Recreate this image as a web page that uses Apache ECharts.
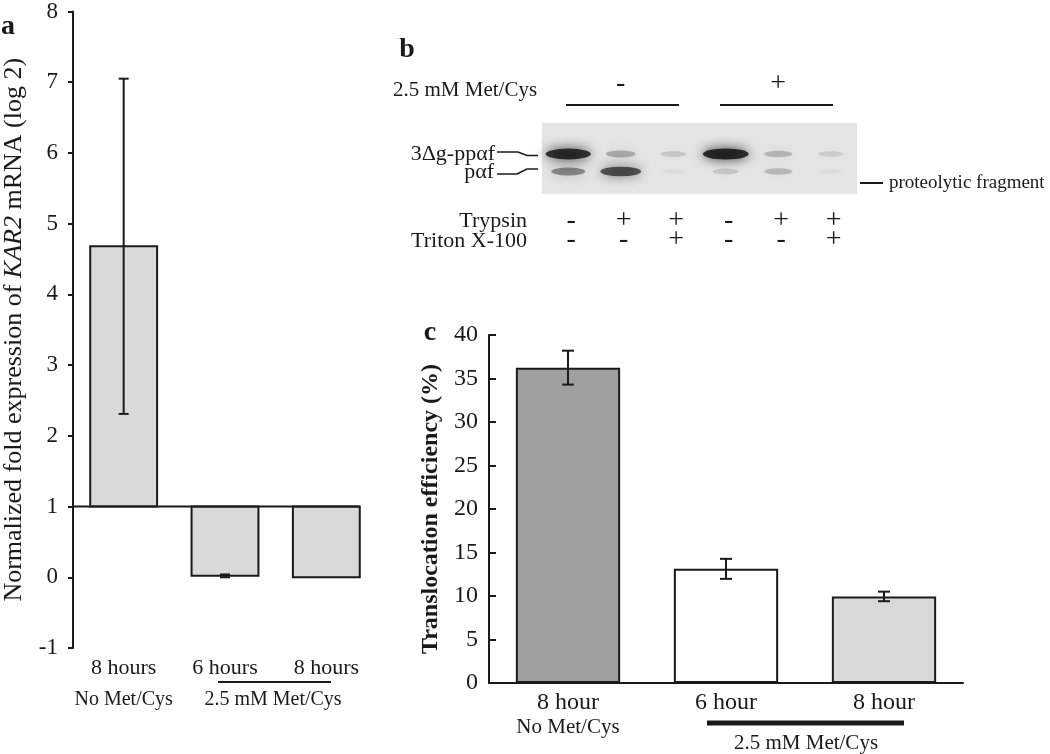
<!DOCTYPE html>
<html>
<head>
<meta charset="utf-8">
<script src="https://cdn.jsdelivr.net/npm/echarts@6/dist/echarts.min.js"></script>
<style>
  html, body { margin: 0; padding: 0; background: #fff; }
  #chart { width: 1050px; height: 754px; }
</style>
</head>
<body>
<div id="chart"></div>
<script>
// panel a: KAR2 mRNA, log2 fold, bars hang from baseline 1
const aCategories = ["8 hours", "6 hours", "8 hours"];
const aValues = [4.68, 0.02, 0.0];
const aErrors = [2.37, 0.02, 0];
const aBaseline = 1;

// panel b: gel lanes and band intensities (0..1)
const lanes = ["1", "2", "3", "4", "5", "6"];
const bandRows = [31, 48.5];          // migration of 3Δg-ppαf and pαf bands
const upperBand = [0.97, 0.32, 0.16, 1.0, 0.26, 0.13];
const lowerBand = [0.5, 0.78, 0.04, 0.16, 0.24, 0.04];
const trypsinRow = ["-", "+", "+", "-", "+", "+"];
const tritonRow = ["-", "-", "+", "-", "-", "+"];
const metCysGroups = ["-", "+"];

// panel c: translocation efficiency (%)
const cCategories = ["8 hour", "6 hour", "8 hour"];
const cValues = [36.25, 13.12, 9.95];
const cErrors = [1.95, 1.15, 0.55];
const cColors = ["#a0a0a0", "#ffffff", "#d9d9d9"];

const FONT = '"Liberation Serif", "Times New Roman", serif';
const INK = "#1a1a1a";

const chart = echarts.init(document.getElementById("chart"));

function errorBars(capW) {
  return function (params, api) {
    const i = api.value(0);
    const lo = api.value(1);
    const hi = api.value(2);
    if (hi === lo) return null;
    const pHi = api.coord([i, hi]);
    const pLo = api.coord([i, lo]);
    const st = { stroke: INK, lineWidth: 2 };
    return {
      type: "group",
      children: [
        { type: "line", shape: { x1: pHi[0], y1: pHi[1], x2: pLo[0], y2: pLo[1] }, style: st },
        { type: "line", shape: { x1: pHi[0] - capW / 2, y1: pHi[1], x2: pHi[0] + capW / 2, y2: pHi[1] }, style: st },
        { type: "line", shape: { x1: pLo[0] - capW / 2, y1: pLo[1], x2: pLo[0] + capW / 2, y2: pLo[1] }, style: st },
      ],
    };
  };
}

function renderBarsA(params, api) {
  const i = api.value(0);
  const v = api.value(1);
  const base = api.coord([i, aBaseline]);
  const top = api.coord([i, v]);
  const w = api.size([1, 0])[0] * 0.66;
  const children = [
    {
      type: "rect",
      shape: { x: base[0] - w / 2, y: Math.min(base[1], top[1]), width: w, height: Math.abs(top[1] - base[1]) },
      style: { fill: "#d9d9d9", stroke: INK, lineWidth: 2 },
    },
  ];
  // the baseline at 1 runs from the axis to the right edge of the last bar
  if (params.dataIndex === aValues.length - 1) {
    children.push({
      type: "line",
      shape: { x1: params.coordSys.x, y1: base[1], x2: base[0] + w / 2, y2: base[1] },
      style: { stroke: INK, lineWidth: 2 },
      z2: 10,
    });
  }
  return { type: "group", children };
}

function bandData(row, yPos) {
  return row.map((a, i) => ({
    value: [i, yPos],
    symbolSize: [22 + 24 * a, 5 + 6 * a],
    itemStyle: {
      color: "rgba(10,10,10," + a + ")",
      shadowBlur: 12,
      shadowColor: "rgba(10,10,10," + a + ")",
    },
  }));
}

chart.setOption({
  animation: false,
  textStyle: { fontFamily: FONT, color: INK },
  grid: [
    { left: 73, top: 5, width: 304, height: 643 },
    { left: 542, top: 123, width: 315, height: 71, show: true, backgroundColor: "#e4e4e4", borderWidth: 0 },
    { left: 489, top: 335, width: 474, height: 348 },
  ],
  xAxis: [
    {
      type: "category",
      gridIndex: 0,
      data: aCategories,
      axisLine: { show: false },
      axisTick: { show: false },
      axisLabel: {
        interval: 0,
        hideOverlap: false,
        fontFamily: FONT,
        fontSize: 22,
        color: INK,
        margin: 4,
        lineHeight: 32,
        formatter: (v, i) => (i === 0 ? v + "\n{s|No Met/Cys}" : v),
        rich: { s: { fontFamily: FONT, fontSize: 20, lineHeight: 32, color: INK } },
      },
    },
    { type: "category", gridIndex: 1, data: lanes, show: false },
    {
      type: "category",
      gridIndex: 2,
      data: cCategories,
      axisLine: { lineStyle: { color: INK, width: 2 } },
      axisTick: { show: false },
      axisLabel: {
        interval: 0,
        hideOverlap: false,
        fontFamily: FONT,
        fontSize: 24,
        color: INK,
        margin: 7,
        lineHeight: 25,
        formatter: (v, i) => (i === 0 ? v + "\n{s|No Met/Cys}" : v),
        rich: { s: { fontFamily: FONT, fontSize: 21, lineHeight: 25, color: INK } },
      },
    },
  ],
  yAxis: [
    {
      type: "value",
      gridIndex: 0,
      min: -1,
      max: 8,
      interval: 1,
      splitLine: { show: false },
      axisLine: { show: true, lineStyle: { color: INK, width: 2 } },
      axisTick: { show: true, length: 5, lineStyle: { color: INK, width: 2 } },
      axisLabel: { fontFamily: FONT, fontSize: 23, color: INK, margin: 15 },
      name: "Normalized fold expression of {i|KAR2} mRNA (log 2)",
      nameLocation: "middle",
      nameGap: 46,
      nameTextStyle: {
        fontFamily: FONT,
        fontSize: 26,
        color: INK,
        rich: { i: { fontFamily: FONT, fontSize: 26, fontStyle: "italic", color: INK } },
      },
    },
    { type: "value", gridIndex: 1, min: 0, max: 71, inverse: true, show: false },
    {
      type: "value",
      gridIndex: 2,
      min: 0,
      max: 40,
      interval: 5,
      splitLine: { show: false },
      axisLine: { show: true, lineStyle: { color: INK, width: 2 } },
      axisTick: { show: true, inside: true, length: 7, lineStyle: { color: INK, width: 2 } },
      axisLabel: { fontFamily: FONT, fontSize: 24, color: INK, margin: 11 },
      name: "Translocation efficiency (%)",
      nameLocation: "middle",
      nameGap: 46,
      nameTextStyle: { fontFamily: FONT, fontSize: 24, fontWeight: "bold", color: INK },
    },
  ],
  series: [
    {
      type: "custom",
      xAxisIndex: 0,
      yAxisIndex: 0,
      renderItem: renderBarsA,
      encode: { x: 0, y: 1 },
      data: aValues.map((v, i) => [i, v]),
      z: 2,
    },
    {
      type: "custom",
      xAxisIndex: 0,
      yAxisIndex: 0,
      renderItem: errorBars(10),
      encode: { x: 0, y: [1, 2] },
      data: aValues.map((v, i) => [i, v - aErrors[i], v + aErrors[i]]),
      z: 3,
    },
    {
      type: "scatter",
      xAxisIndex: 1,
      yAxisIndex: 1,
      silent: true,
      data: bandData(upperBand, bandRows[0]),
    },
    {
      type: "scatter",
      xAxisIndex: 1,
      yAxisIndex: 1,
      silent: true,
      data: bandData(lowerBand, bandRows[1]),
    },
    {
      type: "bar",
      xAxisIndex: 2,
      yAxisIndex: 2,
      barWidth: "66%",
      data: cValues.map((v, i) => ({ value: v, itemStyle: { color: cColors[i] } })),
      itemStyle: { borderColor: INK, borderWidth: 2 },
      z: 2,
    },
    {
      type: "custom",
      xAxisIndex: 2,
      yAxisIndex: 2,
      renderItem: errorBars(12),
      encode: { x: 0, y: [1, 2] },
      data: cValues.map((v, i) => [i, v - cErrors[i], v + cErrors[i]]),
      z: 3,
    },
  ],
});

// annotations: panel letters, gel labels, treatment signs, group brackets
function txt(text, x, y, size, opts) {
  const o = opts || {};
  return {
    type: "text",
    x: x,
    y: y,
    style: {
      text: text,
      font: (o.weight || "normal") + " " + size + "px " + FONT,
      fill: INK,
      align: o.align || "center",
      textAlign: o.align || "center",
      verticalAlign: "middle",
      textVerticalAlign: "middle",
    },
  };
}
function seg(x1, y1, x2, y2, w) {
  return { type: "line", shape: { x1, y1, x2, y2 }, style: { stroke: INK, lineWidth: w || 2 } };
}

const laneX = lanes.map((l, i) => chart.convertToPixel({ xAxisIndex: 1 }, i));
const graphics = [
  txt("a", 8, 27, 28, { weight: "bold" }),
  txt("b", 407, 50, 28, { weight: "bold" }),
  txt("c", 430, 333, 28, { weight: "bold" }),
  // panel a group label
  seg(218, 682, 331, 682, 2),
  txt("2.5 mM Met/Cys", 273, 700, 20),
  // panel c group label
  seg(707, 723, 904, 723, 5),
  txt("2.5 mM Met/Cys", 806, 743, 21),
  // panel b
  txt("2.5 mM Met/Cys", 393, 90, 21, { align: "left" }),
  seg(566, 105, 679, 105, 2),
  seg(720, 105, 833, 105, 2),
  txt("3Δg-ppαf", 495, 154, 22, { align: "right" }),
  txt("pαf", 494, 172, 22, { align: "right" }),
  { type: "polyline", shape: { points: [[497, 152], [518, 152], [527, 155.5], [538, 155.5]] }, style: { stroke: INK, lineWidth: 1.5, fill: null } },
  { type: "polyline", shape: { points: [[497, 174], [517, 174], [527, 169], [538, 169]] }, style: { stroke: INK, lineWidth: 1.5, fill: null } },
  seg(860, 183, 883, 183, 2),
  txt("proteolytic fragment", 889, 183, 19, { align: "left" }),
  txt("Trypsin", 527, 221, 22, { align: "right" }),
  txt("Triton X-100", 527, 241, 22, { align: "right" }),
];
metCysGroups.forEach((s, g) => {
  const cx = (laneX[g * 3] + laneX[g * 3 + 2]) / 2;
  graphics.push(txt(s, cx, 84, 28));
});
trypsinRow.forEach((s, i) => graphics.push(txt(s, laneX[i] + 3, 221, 28)));
tritonRow.forEach((s, i) => graphics.push(txt(s, laneX[i] + 3, 240, 28)));

chart.setOption({ graphic: graphics });
</script>
</body>
</html>
